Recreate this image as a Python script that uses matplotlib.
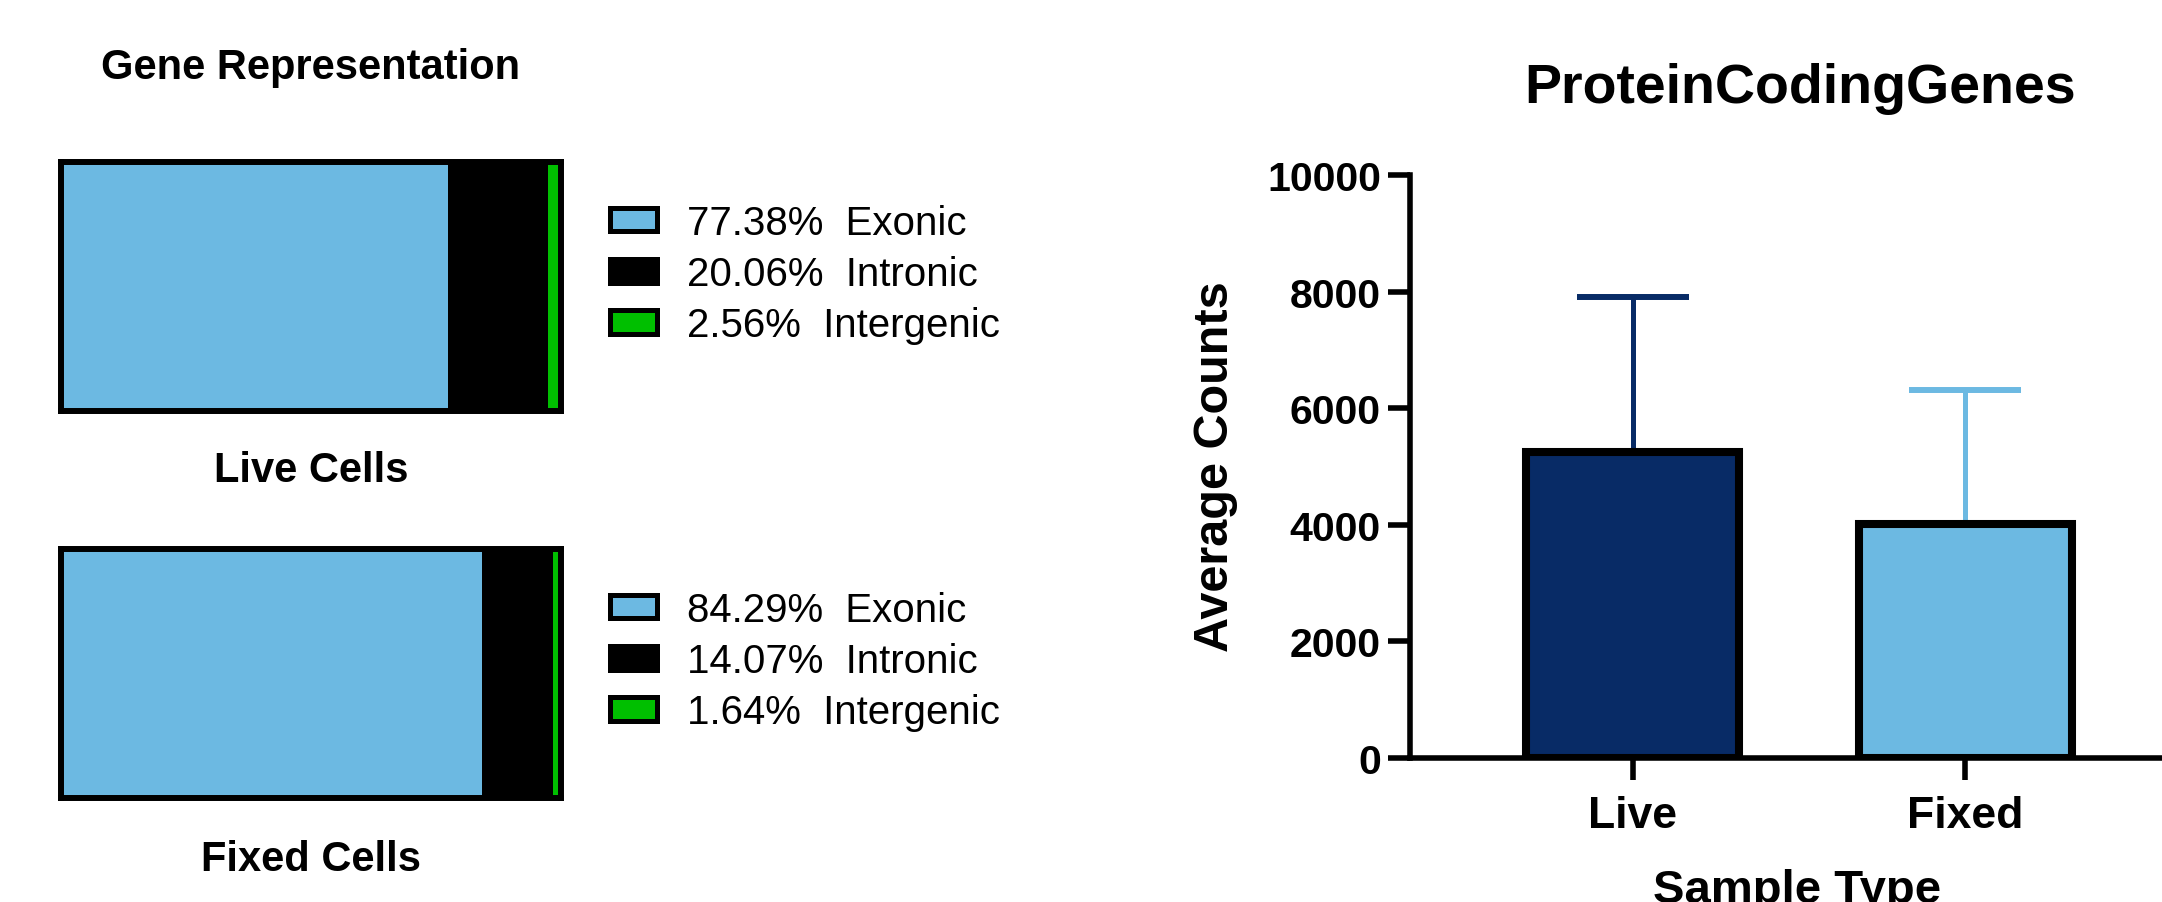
import numpy as np
import matplotlib
matplotlib.use("Agg")
import matplotlib.pyplot as plt
from matplotlib.patches import Patch

plt.rcParams["font.family"] = ["Liberation Sans", "DejaVu Sans"]

# ---------- data ----------
region_names = ["Exonic", "Intronic", "Intergenic"]
region_colors = ["#6cb9e2", "#000000", "#00bf00"]
live_pct = [77.38, 20.06, 2.56]
fixed_pct = [84.29, 14.07, 1.64]

sample_types = ["Live", "Fixed"]
mean_counts = [5250, 4014]
sd_counts = [2657, 2298]
bar_colors = ["#082b66", "#6cb9e2"]

W, H = 2162, 903
fig = plt.figure(figsize=(W / 100, H / 100), dpi=100)


def px_axes(x0, y0, x1, y1):
    # pixel box (top-left origin) -> figure axes
    return fig.add_axes([x0 / W, 1 - y1 / H, (x1 - x0) / W, (y1 - y0) / H])


def stacked_box(ax, pct, legend_cy):
    left = 0.0
    for v, c in zip(pct, region_colors):
        ax.barh(0, v, left=left, height=1.0, color=c, linewidth=0)
        left += v
    ax.set_xlim(0, 100)
    ax.set_ylim(-0.5, 0.5)
    ax.set_xticks([])
    ax.set_yticks([])
    for s in ax.spines.values():
        s.set_linewidth(4.3)
        s.set_color("black")
    handles = [Patch(facecolor=c, edgecolor="black", linewidth=3.6) for c in region_colors]
    labels = [f"{v:.2f}%  {n}" for v, n in zip(pct, region_names)]
    ax.legend(handles, labels, loc="center left",
              bbox_to_anchor=(609.5 / W, 1 - legend_cy / H),
              bbox_transform=fig.transFigure, frameon=False,
              fontsize=29, borderpad=0, borderaxespad=0,
              handlelength=1.18, handleheight=0.53, handletextpad=0.75,
              labelspacing=0.33)


ax_live = px_axes(61, 163, 561, 412)
stacked_box(ax_live, live_pct, 275)
ax_fixed = px_axes(61, 550, 561, 799)
stacked_box(ax_fixed, fixed_pct, 662)

fig.text(311 / W, 1 - 79 / H, "Gene Representation", ha="center", va="baseline",
         fontsize=30, fontweight="bold")
fig.text(311 / W, 1 - 482 / H, "Live Cells", ha="center", va="baseline",
         fontsize=30, fontweight="bold")
fig.text(311 / W, 1 - 871 / H, "Fixed Cells", ha="center", va="baseline",
         fontsize=30, fontweight="bold")

# ---------- bar chart ----------
ax = px_axes(1410, 176, 2188, 759)
x = np.arange(len(sample_types))
ax.bar(x, mean_counts, width=0.64, color=bar_colors, edgecolor="black",
       linewidth=5.8, zorder=3)
for xi, m, sd, c in zip(x, mean_counts, sd_counts, bar_colors):
    ax.errorbar(xi, m, yerr=[[0], [sd]], color=c, elinewidth=3.6,
                capsize=40, capthick=4.3, zorder=2)
ax.set_xlim(-0.67, 1.67)
ax.set_ylim(0, 10000)
ax.set_yticks(np.arange(0, 10001, 2000))
ax.set_xticks(x)
ax.set_xticklabels(sample_types)
for s in ["top", "right"]:
    ax.spines[s].set_visible(False)
for s in ["left", "bottom"]:
    ax.spines[s].set_linewidth(4)
ax.tick_params(axis="both", direction="out", length=16, width=4)
ax.tick_params(axis="y", pad=5, labelsize=29.5)
ax.tick_params(axis="x", pad=10.5, labelsize=32)
for lab in ax.get_xticklabels() + ax.get_yticklabels():
    lab.set_fontweight("bold")

fig.text(1800 / W, 1 - 103 / H, "ProteinCodingGenes", ha="center", va="baseline",
         fontsize=40, fontweight="bold")
fig.text(1215 / W, 1 - 467 / H, "Average Counts", ha="center", va="center",
         rotation=90, fontsize=35, fontweight="bold")
# cut off at the bottom edge, as in the reference
fig.text(1797 / W, 1 - 869 / H, "Sample Type", ha="center", va="top",
         fontsize=34, fontweight="bold")

fig.savefig("out.png", dpi=100)
